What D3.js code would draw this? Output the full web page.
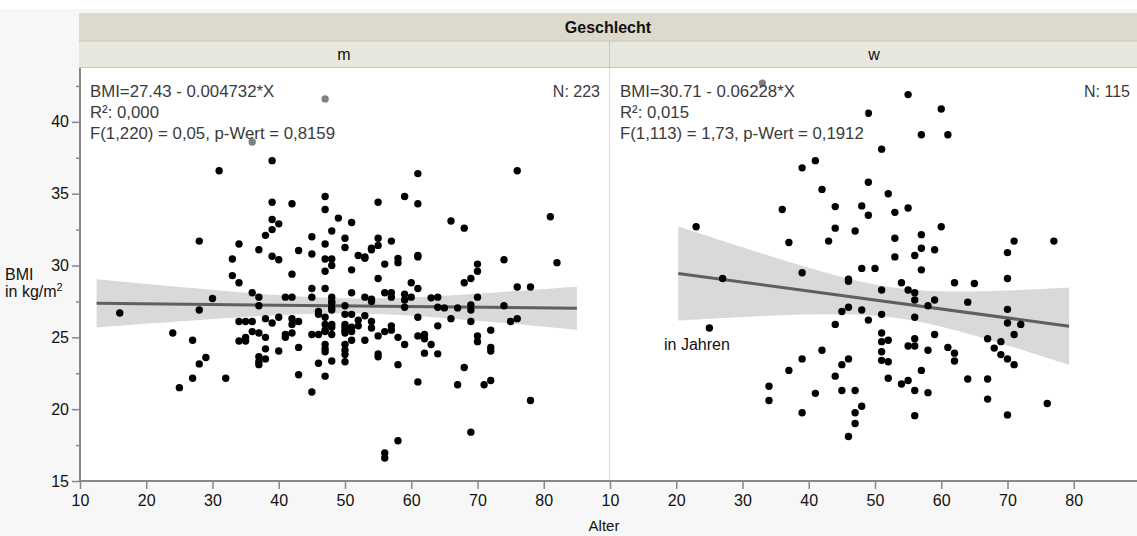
<!DOCTYPE html>
<html>
<head>
<meta charset="utf-8">
<script src="https://cdn.jsdelivr.net/npm/d3@7"></script>
<style>
  body { margin: 0; background: #f7f7f7; }
  svg { display: block; font-family: "Liberation Sans", Arial, Helvetica, sans-serif; }
</style>
</head>
<body>
<div id="chart"></div>
<script>
// Alter / BMI, Geschlecht = m
const agesM = [47,36,39,31,39,42,47,47,49,51,39,40,39,38,28,34,37,39,40,33,43,45,47,48,45,47,48,50,50,
  61,76,81,55,59,61,66,68,55,55,54,57,52,53,58,61,74,
  16,28,30,36,37,37,41,42,45,45,47,48,48,48,46,46,47,50,50,
  33,34,42,47,48,51,51,
  34,35,36,38,39,40,42,42,43,36,37,38,35,34,35,41,41,42,45,46,47,48,48,47,50,50,
  38,40,43,47,47,47,50,50,50,50,37,37,37,38,
  24,27,29,28,27,25,32,43,45,46,47,48,
  53,54,56,58,61,55,60,61,48,48,53,54,54,56,57,57,59,59,59,60,63,64,64,65,67,69,69,70,68,69,70,70,
  76,78,82,74,75,76,72,72,72,70,70,69,66,64,61,61,62,62,63,62,64,58,59,57,57,56,55,54,54,53,52,52,
  51,51,51,51,50,50,48,47,53,55,55,58,61,67,68,71,72,78,69,58,56,56];
const bmiM = [41.6,38.6,37.3,36.6,34.4,34.3,34.8,33.9,33.3,33.0,33.2,32.9,32.5,32.1,31.7,31.5,31.1,30.65,30.4,30.45,31.05,32.0,31.5,32.4,30.8,30.45,30.45,31.9,31.25,
  36.4,36.6,33.4,34.4,34.8,34.3,33.1,32.6,31.9,31.4,31.2,31.7,30.7,30.6,30.5,30.7,30.4,
  26.7,26.9,27.7,28.1,27.8,27.2,27.8,27.8,28.4,27.8,28.4,27.8,27.4,26.9,26.8,26.6,26.4,27.2,26.6,
  29.3,28.8,29.4,29.6,30.0,29.7,28.1,
  26.1,26.1,26.1,26.3,26.0,26.4,26.3,25.9,26.1,25.4,25.3,25.0,25.0,24.75,24.75,25.2,25.0,25.3,25.2,25.2,25.4,25.2,25.7,25.9,25.7,25.3,
  24.2,24.05,24.3,24.5,24.2,24.0,24.5,24.1,23.8,23.3,23.65,23.3,23.1,23.5,
  25.3,24.8,23.6,23.15,22.15,21.5,22.15,22.4,21.2,23.2,22.3,23.35,
  30.5,31.1,30.1,30.2,30.6,29.1,28.8,28.4,27.5,27.1,27.8,27.65,27.5,28.1,28.1,27.8,28.0,27.6,27.1,27.8,27.75,27.8,27.1,27.05,27.05,27.25,26.9,27.8,28.8,29.1,30.1,29.6,
  28.5,28.5,30.2,27.2,26.1,26.3,25.5,24.3,24.05,25.1,24.7,26.1,26.3,25.8,26.4,25.1,25.2,24.9,24.5,23.9,23.85,25.0,24.5,25.8,25.5,25.4,25.1,26.1,25.65,26.5,26.2,25.8,
  26.6,25.7,25.4,24.8,25.9,25.5,25.9,25.5,24.8,23.85,23.65,23.1,21.9,21.7,22.9,21.7,22.0,20.6,18.4,17.8,16.95,16.6];

// Alter / BMI, Geschlecht = w
const agesW = [33,49,41,39,49,42,36,44,48,49,44,47,43,37,23,
  55,60,57,61,51,52,53,55,53,57,60,57,59,53,56,71,77,70,
  27,25,39,46,46,48,50,57,70,62,65,54,55,56,56,51,59,58,64,70,70,72,71,
  45,46,48,49,51,56,44,51,51,51,51,52,52,55,56,56,59,58,61,62,62,67,68,69,69,70,71,
  42,39,37,46,45,44,57,52,55,54,56,58,64,67,67,70,76,56,34,34,39,41,45,47,48,47,47,46];
const bmiW = [42.7,40.6,37.3,36.8,35.8,35.3,33.9,34.1,34.15,33.5,32.6,32.4,31.7,31.6,32.7,
  41.9,40.9,39.1,39.1,38.1,35.0,33.7,34.0,31.9,32.15,32.7,31.2,31.1,30.6,30.7,31.7,31.7,30.9,
  29.1,25.65,29.5,29.05,28.9,29.8,29.8,29.7,29.1,28.8,28.75,28.8,28.3,28.1,27.6,28.3,27.6,27.2,27.45,26.95,26.0,25.9,25.2,
  26.8,27.1,26.9,26.2,26.6,26.4,25.9,25.3,24.7,24.0,23.4,24.8,23.3,24.4,24.4,24.9,25.2,24.1,24.3,23.9,23.35,24.9,24.25,24.7,23.8,23.5,23.1,
  24.1,23.5,22.7,23.5,23.1,22.3,22.7,22.15,22.0,21.75,21.3,21.15,22.1,22.1,20.7,19.6,20.4,19.55,21.6,20.6,19.75,21.1,21.3,21.3,20.2,19.75,19.0,18.1];

const groups = ["m", "w"];
const intercepts = [27.43, 30.71];
const slopes = [-0.004732, -0.06228];
const fitRanges = [[12.5, 85], [20.3, 79.3]];
const statLines = [
  ["BMI=27.43 - 0.004732*X", "R²: 0,000", "F(1,220) = 0,05, p-Wert = 0,8159"],
  ["BMI=30.71 - 0.06228*X", "R²: 0,015", "F(1,113) = 1,73, p-Wert = 0,1912"]
];
const nLabels = ["N: 223", "N: 115"];
const xTicks = [10, 20, 30, 40, 50, 60, 70, 80];
const yTicks = [15, 20, 25, 30, 35, 40];
const yMinor = [17.5, 22.5, 27.5, 32.5, 37.5, 42.5];

const W = 1137, H = 536;
const plotTop = 68, plotBottom = 481, plotLeft = 80, panelW = 530;

const svg = d3.select("#chart").append("svg").attr("width", W).attr("height", H);
svg.append("rect").attr("width", W).attr("height", 9).attr("fill", "#fff");

const y = d3.scaleLinear().domain([15, 43.75]).range([plotBottom, plotTop]);

// headers
svg.append("rect").attr("x", 79).attr("y", 13).attr("width", W - 79).attr("height", 28)
  .attr("fill", "#dcdacc");
svg.append("text").attr("x", 608).attr("y", 33).attr("text-anchor", "middle")
  .attr("font-size", 16).attr("font-weight", "bold").attr("fill", "#111").text("Geschlecht");
svg.append("rect").attr("x", 79).attr("y", 41).attr("width", W - 79).attr("height", 27)
  .attr("fill", "#e8e7de");
svg.append("line").attr("x1", 79).attr("x2", W).attr("y1", 41).attr("y2", 41).attr("stroke", "#c9c7b8");
svg.append("line").attr("x1", 79).attr("x2", W).attr("y1", 67.5).attr("y2", 67.5).attr("stroke", "#c9c7b8");

const data = [d3.zip(agesM, bmiM), d3.zip(agesW, bmiW)];

groups.forEach((gName, i) => {
  const x0 = plotLeft + i * panelW;
  const x = d3.scaleLinear().domain([10, 90]).range([x0, x0 + panelW]);
  const pts = data[i];
  const a = intercepts[i], b = slopes[i];

  svg.append("rect").attr("x", x0).attr("y", plotTop).attr("width", panelW).attr("height", plotBottom - plotTop)
    .attr("fill", "#fff");
  svg.append("text").attr("x", x0 + panelW / 2 - 1).attr("y", 60).attr("text-anchor", "middle")
    .attr("font-size", 16).attr("fill", "#111").text(gName);
  if (i > 0) {
    svg.append("line").attr("x1", x0 - 0.5).attr("x2", x0 - 0.5).attr("y1", 41).attr("y2", 68)
      .attr("stroke", "#c9c7b8");
    svg.append("line").attr("x1", x0 - 0.5).attr("x2", x0 - 0.5).attr("y1", 68).attr("y2", plotBottom)
      .attr("stroke", "#dddddd");
  }

  // confidence band of the fit
  const n = pts.length;
  const xbar = d3.mean(pts, d => d[0]);
  const sxx = d3.sum(pts, d => (d[0] - xbar) ** 2);
  const s = Math.sqrt(d3.sum(pts, d => (d[1] - (a + b * d[0])) ** 2) / (n - 2));
  const xs = d3.range(0, 61).map(k => fitRanges[i][0] + k * (fitRanges[i][1] - fitRanges[i][0]) / 60);
  const band = xs.map(v => {
    const h = 1.97 * s * Math.sqrt(1 / n + (v - xbar) ** 2 / sxx);
    return { v, lo: a + b * v - h, hi: a + b * v + h };
  });
  svg.append("path").datum(band)
    .attr("d", d3.area().x(d => x(d.v)).y0(d => y(d.lo)).y1(d => y(d.hi)))
    .attr("fill", "#d9d9d9");
  svg.append("line")
    .attr("x1", x(fitRanges[i][0])).attr("y1", y(a + b * fitRanges[i][0]))
    .attr("x2", x(fitRanges[i][1])).attr("y2", y(a + b * fitRanges[i][1]))
    .attr("stroke", "#5f5f5f").attr("stroke-width", 3);

  svg.append("g").selectAll("circle").data(pts).join("circle")
    .attr("cx", d => x(d[0])).attr("cy", d => y(d[1])).attr("r", 3.7).attr("fill", "#000");

  // stats text with translucent box
  const tg = svg.append("g");
  const box = tg.append("rect");
  const tx = tg.append("g");
  statLines[i].forEach((t, k) => {
    tx.append("text").attr("x", x0 + 10).attr("y", 97 + k * 21)
      .attr("font-size", 16.8).attr("fill", "#3a3a3a").text(t);
  });
  const bb = tx.node().getBBox();
  box.attr("x", bb.x - 4).attr("y", 78).attr("width", bb.width + 6).attr("height", 70)
    .attr("fill", "#fff").attr("opacity", 0.5);
  svg.append("text").attr("x", x0 + panelW - 10).attr("y", 97).attr("text-anchor", "end")
    .attr("font-size", 16).attr("fill", "#3a3a3a").text(nLabels[i]);

  // x axis
  const xa = svg.append("g").attr("transform", `translate(0,${plotBottom})`)
    .call(d3.axisBottom(x).tickValues(xTicks).tickSize(8).tickPadding(6).tickFormat(d3.format("d")));
  xa.select(".domain").remove();
  xa.selectAll("line").attr("stroke", "#888").attr("stroke-width", 1.5);
  xa.selectAll("text").attr("font-size", 16).attr("fill", "#111").attr("font-family", null);
});

svg.append("line").attr("x1", plotLeft).attr("x2", W).attr("y1", plotBottom).attr("y2", plotBottom)
  .attr("stroke", "#888").attr("stroke-width", 2);

// y axis
const ya = svg.append("g").attr("transform", `translate(${plotLeft},0)`)
  .call(d3.axisLeft(y).tickValues(yTicks).tickSize(8).tickPadding(3));
ya.select(".domain").remove();
ya.selectAll("line").attr("stroke", "#888").attr("stroke-width", 1.5);
ya.selectAll("text").attr("font-size", 16).attr("fill", "#111").attr("font-family", null);
const ym = svg.append("g").attr("transform", `translate(${plotLeft},0)`)
  .call(d3.axisLeft(y).tickValues(yMinor).tickSize(4).tickFormat(""));
ym.select(".domain").remove();
ym.selectAll("line").attr("stroke", "#888").attr("stroke-width", 1.5);
svg.append("line").attr("x1", plotLeft).attr("x2", plotLeft).attr("y1", plotTop).attr("y2", plotBottom + 1)
  .attr("stroke", "#888").attr("stroke-width", 2);

// axis titles
svg.append("text").attr("x", 5).attr("y", 280).attr("font-size", 16).attr("fill", "#111").text("BMI");
svg.append("text").attr("x", 5).attr("y", 297).attr("font-size", 16).attr("fill", "#111")
  .text("in kg/m").append("tspan").attr("font-size", 11).attr("dy", -6).text("2");
svg.append("text").attr("x", 604).attr("y", 531).attr("text-anchor", "middle")
  .attr("font-size", 15).attr("fill", "#111").text("Alter");
svg.append("text").attr("x", 664).attr("y", 350).attr("font-size", 16).attr("fill", "#111").text("in Jahren");
</script>
</body>
</html>
